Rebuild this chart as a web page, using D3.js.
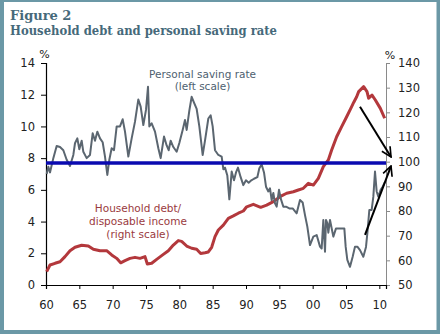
<!DOCTYPE html>
<html><head><meta charset="utf-8">
<script src="https://cdn.jsdelivr.net/npm/d3@7/dist/d3.min.js"></script>
<style>
html,body{margin:0;padding:0;background:#fff;}
svg{display:block;}
</style></head>
<body>
<svg id="chart" width="440" height="334"></svg>
<script>
// ---- data ----
const titleLines = ["Figure 2", "Household debt and personal saving rate"];
const xTickValues = [1960,1965,1970,1975,1980,1985,1990,1995,2000,2005,2010];
const xTickLabels = ["60","65","70","75","80","85","90","95","00","05","10"];
const leftTicks = [0,2,4,6,8,10,12,14];
const rightTicks = [50,60,70,80,90,100,110,120,130,140];
const referenceLevel = 7.7; // left scale
// personal saving rate, % (left scale): [year, value]
const savingYears = [1960.1,1960.35,1960.6,1961.1,1961.6,1962.1,1962.6,1963.1,1963.6,1964.1,1964.35,1964.7,1965.0,1965.35,1965.6,1966.1,1966.6,1967.0,1967.35,1967.7,1968.1,1968.5,1968.85,1969.2,1969.5,1969.85,1970.2,1970.6,1971.1,1971.5,1971.85,1972.35,1972.85,1973.35,1973.85,1974.2,1974.6,1975.0,1975.3,1975.5,1975.85,1976.35,1976.85,1977.2,1977.7,1978.1,1978.4,1978.7,1979.1,1979.6,1980.0,1980.5,1980.85,1981.1,1981.5,1981.85,1982.2,1982.6,1983.0,1983.5,1983.85,1984.35,1984.7,1985.0,1985.35,1985.85,1986.35,1986.6,1986.85,1987.2,1987.5,1987.85,1988.2,1988.5,1988.8,1989.2,1989.6,1990.0,1990.4,1990.8,1991.2,1991.7,1992.0,1992.35,1992.7,1993.0,1993.35,1993.6,1993.85,1994.1,1994.35,1994.6,1994.95,1995.25,1995.6,1996.0,1996.5,1997.0,1997.6,1998.1,1998.5,1998.85,1999.2,1999.6,2000.1,2000.6,2001.1,2001.35,2001.6,2001.85,2002.0,2002.2,2002.35,2002.6,2003.1,2003.5,2003.85,2004.35,2004.75,2004.95,2005.2,2005.6,2006.0,2006.35,2006.7,2007.1,2007.6,2008.0,2008.2,2008.5,2008.85,2009.1,2009.35,2009.6,2009.85,2010.2,2010.5,2010.85];
const savingValues = [7.0,7.46,7.1,8.0,8.77,8.7,8.5,7.9,7.5,8.2,8.94,9.25,8.56,9.1,8.4,8.0,8.2,9.57,9.1,9.67,9.25,9.0,8.1,6.94,7.9,8.62,8.5,10.0,10.0,10.45,9.67,8.1,9.25,10.3,11.7,11.25,10.09,11.04,12.5,10.0,10.2,9.67,8.62,8.0,9.36,8.8,8.5,9.1,8.7,8.4,8.95,9.78,10.4,9.78,11.0,11.87,11.5,11.1,10.0,8.2,9.1,10.5,10.7,10.0,8.5,8.2,8.1,7.3,7.4,6.9,5.4,7.15,6.6,7.1,7.4,6.8,6.3,6.6,6.45,6.6,6.7,6.8,7.36,7.6,7.1,6.2,5.9,6.1,5.36,5.8,5.15,4.94,6.0,5.4,4.94,4.94,4.83,4.83,4.52,5.36,5.2,4.41,3.68,2.52,3.05,3.15,2.42,2.3,4.1,2.1,4.1,3.9,3.3,4.1,3.05,3.57,3.57,3.57,3.57,2.42,1.58,1.15,1.78,2.42,2.42,2.2,1.78,2.4,3.26,4.73,4.73,5.57,7.15,5.9,5.57,6.0,6.2,6.5];
// household debt / disposable income, % (right scale)
const debtYears = [1960.1,1960.6,1961.35,1962.1,1962.85,1963.6,1964.35,1965.35,1966.35,1967.1,1968.1,1969.1,1969.85,1970.6,1971.2,1971.85,1972.6,1973.35,1974.1,1974.85,1975.2,1975.85,1976.6,1977.5,1978.35,1979.1,1979.85,1980.35,1981.1,1981.85,1982.6,1983.2,1983.85,1984.35,1984.85,1985.35,1985.85,1986.6,1987.35,1988.1,1988.85,1989.6,1990.1,1991.1,1992.2,1993.1,1994.1,1995.1,1996.1,1997.1,1997.85,1998.6,1999.35,2000.1,2000.85,2001.6,2002.35,2002.85,2003.6,2004.35,2005.1,2005.85,2006.15,2006.6,2006.9,2007.65,2008.15,2008.4,2008.9,2009.4,2010.15,2010.8];
const debtValues = [55.4,58.1,58.8,59.4,61.5,63.9,65.3,66.1,65.8,64.5,63.9,63.9,62.2,60.8,59.0,59.9,60.8,61.2,60.8,61.5,58.5,58.8,60.4,62.2,63.9,66.2,68.0,67.7,65.8,64.9,64.5,62.8,63.1,63.4,65.3,69.6,72.3,74.3,77.0,78.0,79.1,80.0,81.7,82.7,81.5,82.4,83.8,85.8,87.2,87.8,88.5,89.2,91.2,90.5,93.2,98.0,100.7,104.7,110.1,114.2,118.2,122.3,124.0,126.3,128.4,130.4,128.4,125.7,127.0,125.0,121.6,117.6];
// arrows (right scale): from -> to
const arrowFromYears = [2007.1, 2007.85];
const arrowFromValues = [122.3, 70.3];
const arrowToYears = [2011.75, 2011.75];
const arrowToValues = [101.9, 98.2];

// ---- drawing ----
const svg = d3.select("#chart");
const W = 440, H = 334;
svg.append("rect").attr("x",0).attr("y",0).attr("width",W).attr("height",H).attr("fill","#6b98a6");
svg.append("rect").attr("x",4).attr("y",2).attr("width",W-7.5).attr("height",H-6).attr("fill","#ffffff");

const x = d3.scaleLinear().domain([1960, 2011]).range([46, 386]);
const yL = d3.scaleLinear().domain([0, 14]).range([285, 63]);
const yR = d3.scaleLinear().domain([50, 140]).range([285, 63]);

const tickFont = "DejaVu Sans, Verdana, sans-serif";

// title
svg.append("text").attr("x",10).attr("y",20).text(titleLines[0])
  .attr("font-family","DejaVu Serif, Georgia, serif").attr("font-weight","bold")
  .attr("font-size","13px").attr("fill","#46697a");
svg.append("text").attr("x",10).attr("y",35).text(titleLines[1])
  .attr("font-family","DejaVu Serif, Georgia, serif").attr("font-weight","bold")
  .attr("font-size","13px").attr("fill","#46697a")
  .attr("textLength",267).attr("lengthAdjust","spacingAndGlyphs");

// axes
const gL = svg.append("g").attr("transform","translate(46,0)")
  .call(d3.axisLeft(yL).tickValues(leftTicks).tickSize(5).tickPadding(6).tickFormat(d3.format("d")));
const gR = svg.append("g").attr("transform","translate(386,0)")
  .call(d3.axisRight(yR).tickValues(rightTicks).tickSize(4).tickPadding(8).tickFormat(d3.format("d")));
const gX = svg.append("g").attr("transform","translate(0,285)")
  .call(d3.axisBottom(x).tickValues(xTickValues).tickSize(4).tickPadding(12)
    .tickFormat((d,i)=>xTickLabels[i]));
[gL,gR,gX].forEach(g=>{
  g.selectAll("text").attr("font-family",tickFont).attr("font-size","11.5px").attr("fill","#222");
});
gL.select(".domain").attr("stroke","#000").attr("stroke-width",1.2);
gL.selectAll(".tick line").attr("stroke","#000");
gR.select(".domain").attr("stroke","#8a8a8a");
gR.selectAll(".tick line").attr("stroke","#8a8a8a");
gX.select(".domain").attr("stroke","#000").attr("stroke-width",1.2);
gX.selectAll(".tick line").attr("stroke","#000");

svg.append("text").attr("x",44.5).attr("y",58).attr("text-anchor","middle").text("%")
  .attr("font-family",tickFont).attr("font-size","11px").attr("fill","#222");
svg.append("text").attr("x",390).attr("y",59).attr("text-anchor","middle").text("%")
  .attr("font-family",tickFont).attr("font-size","11px").attr("fill","#222");

// debt line
const debtData = debtYears.map((d,i)=>[d, debtValues[i]]);
svg.append("path").datum(debtData)
  .attr("d", d3.line().x(d=>x(d[0])).y(d=>yR(d[1])))
  .attr("fill","none").attr("stroke","#b3383c").attr("stroke-width",3).attr("stroke-linejoin","round");

// saving line
const savingData = savingYears.map((d,i)=>[d, savingValues[i]]);
svg.append("path").datum(savingData)
  .attr("d", d3.line().x(d=>x(d[0])).y(d=>yL(d[1])))
  .attr("fill","none").attr("stroke","#5b6670").attr("stroke-width",2).attr("stroke-linejoin","round");

// reference line
svg.append("line").attr("x1",x(1960)).attr("x2",x(2011))
  .attr("y1",yL(referenceLevel)).attr("y2",yL(referenceLevel))
  .attr("stroke","#0a0ab0").attr("stroke-width",3.5);

// arrows
svg.append("defs").append("marker").attr("id","ah")
  .attr("viewBox","0 0 10 10").attr("refX",9).attr("refY",5)
  .attr("markerWidth",6).attr("markerHeight",6).attr("orient","auto")
  .attr("markerUnits","strokeWidth")
  .append("path").attr("d","M1,1 L9,5 L1,9").attr("fill","none").attr("stroke","#000").attr("stroke-width",1.4);
arrowFromYears.forEach((fy,i)=>{
  svg.append("line")
    .attr("x1",x(fy)).attr("y1",yR(arrowFromValues[i]))
    .attr("x2",x(arrowToYears[i])).attr("y2",yR(arrowToValues[i]))
    .attr("stroke","#000").attr("stroke-width",2).attr("marker-end","url(#ah)");
});

// annotations
const annFont = "DejaVu Sans, Verdana, sans-serif";
const savLab = svg.append("text").attr("text-anchor","middle").attr("font-family",annFont)
  .attr("font-size","10.5px").attr("fill","#4e6170");
savLab.append("tspan").attr("x",202.5).attr("y",78).text("Personal saving rate");
savLab.append("tspan").attr("x",202.5).attr("y",90).text("(left scale)");
const debtLab = svg.append("text").attr("text-anchor","middle").attr("font-family",annFont)
  .attr("font-size","10.5px").attr("fill","#9a3a3e");
debtLab.append("tspan").attr("x",138).attr("y",212).text("Household debt/");
debtLab.append("tspan").attr("x",138).attr("y",225).text("disposable income");
debtLab.append("tspan").attr("x",138).attr("y",238).text("(right scale)");
</script>
</body></html>
